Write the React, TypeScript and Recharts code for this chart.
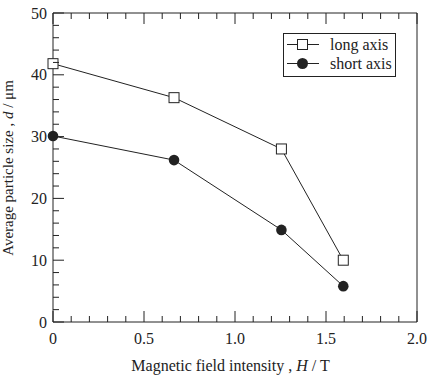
import { LineChart, Line, XAxis, YAxis } from "recharts"

const fieldIntensity = [0, 0.665, 1.255, 1.595]
const longAxis = [41.8, 36.3, 28.0, 10.0]
const shortAxis = [30.1, 26.2, 14.9, 5.8]
const seriesNames = ["long axis", "short axis"]

const xTicks = [0, 0.1, 0.2, 0.3, 0.4, 0.5, 0.6, 0.7, 0.8, 0.9, 1.0, 1.1, 1.2, 1.3, 1.4, 1.5, 1.6, 1.7, 1.8, 1.9, 2.0]
const xMajor = [0, 0.5, 1.0, 1.5, 2.0]
const xMajorLabels = ["0", "0.5", "1.0", "1.5", "2.0"]
const yTicks = [0, 2, 4, 6, 8, 10, 12, 14, 16, 18, 20, 22, 24, 26, 28, 30, 32, 34, 36, 38, 40, 42, 44, 46, 48, 50]
const yMajor = [0, 10, 20, 30, 40, 50]

const data = fieldIntensity.map((h, i) => ({ h, long: longAxis[i], short: shortAxis[i] }))

const INK = "#222"
const FONT = '"Liberation Serif", "Times New Roman", serif'
const MAJOR = 11
const MINOR = 6

const majorIndex = (list: number[], v: number) => list.findIndex((m) => Math.abs(m - Number(v)) < 1e-6)

const BottomTick = (props: any) => {
  const x = Number(props.x)
  const y0 = Number(props.y) - 10
  const idx = majorIndex(xMajor, props.payload.value)
  return (
    <g>
      <line x1={x} x2={x} y1={y0} y2={y0 - (idx >= 0 ? MAJOR : MINOR)} stroke={INK} strokeWidth={1} />
      {idx >= 0 && (
        <text x={x} y={y0 + 22} textAnchor="middle" fontFamily={FONT} fontSize={16} fill={INK}>
          {xMajorLabels[idx]}
        </text>
      )}
    </g>
  )
}

const TopTick = (props: any) => {
  const x = Number(props.x)
  const y0 = Number(props.y) + 10
  const major = majorIndex(xMajor, props.payload.value) >= 0
  return <line x1={x} x2={x} y1={y0} y2={y0 + (major ? MAJOR : MINOR)} stroke={INK} strokeWidth={1} />
}

const LeftTick = (props: any) => {
  const y = Number(props.y)
  const x0 = Number(props.x) + 10
  const major = majorIndex(yMajor, props.payload.value) >= 0
  return (
    <g>
      <line x1={x0} x2={x0 + (major ? MAJOR : MINOR)} y1={y} y2={y} stroke={INK} strokeWidth={1} />
      {major && (
        <text x={x0 - 6} y={y + 5.5} textAnchor="end" fontFamily={FONT} fontSize={16} fill={INK}>
          {props.payload.value}
        </text>
      )}
    </g>
  )
}

// right axis uses a negative tickMargin so the tick anchor stays inside the chart
const RightTick = (props: any) => {
  const y = Number(props.y)
  const x0 = Number(props.x) + 10
  const major = majorIndex(yMajor, props.payload.value) >= 0
  return <line x1={x0} x2={x0 - (major ? MAJOR : MINOR)} y1={y} y2={y} stroke={INK} strokeWidth={1} />
}

const SquareDot = (p: any) => (
  <rect key={`sq-${p.index}`} x={p.cx - 5} y={p.cy - 5} width={10} height={10} fill="#fff" stroke={INK} strokeWidth={1} />
)

const LegendOverlay = () => (
  <div
    style={{
      position: "absolute",
      left: 283,
      top: 33,
      boxSizing: "border-box",
      width: 113,
      height: 44,
      border: `1px solid ${INK}`,
      background: "#fff",
      padding: "1px 0 0 3px",
      fontFamily: FONT,
      fontSize: 16,
      color: INK,
      lineHeight: "19px",
    }}
  >
    {seriesNames.map((name, i) => (
      <div key={name} style={{ display: "flex", alignItems: "center", height: 19 }}>
        <div style={{ position: "relative", width: 32, height: 19 }}>
          <div style={{ position: "absolute", left: 0, top: 9, width: 32, height: 1, background: INK }} />
          <div
            style={{
              position: "absolute",
              left: 10,
              top: 4,
              width: 11,
              height: 11,
              boxSizing: "border-box",
              border: i === 0 ? `1px solid ${INK}` : "none",
              borderRadius: i === 0 ? 0 : "50%",
              background: i === 0 ? "#fff" : INK,
            }}
          />
        </div>
        <span style={{ marginLeft: 11 }}>{name}</span>
      </div>
    ))}
  </div>
)

export default function App() {
  return (
    <div style={{ position: "absolute", left: 0, top: 0, width: 428, height: 376, background: "#fff" }}>
      <LineChart width={428} height={376} data={data} margin={{ top: 12, right: 10, bottom: 0, left: 0 }}>
        <XAxis
          xAxisId="bottom"
          dataKey="h"
          type="number"
          domain={[0, 2]}
          ticks={xTicks}
          interval={0}
          orientation="bottom"
          height={54}
          tickSize={0}
          tickMargin={10}
          tickLine={false}
          tick={BottomTick}
          axisLine={{ stroke: INK }}
        />
        <XAxis
          xAxisId="top"
          dataKey="h"
          type="number"
          domain={[0, 2]}
          ticks={xTicks}
          interval={0}
          orientation="top"
          height={1}
          tickSize={0}
          tickMargin={10}
          tickLine={false}
          tick={TopTick}
          axisLine={{ stroke: INK }}
        />
        <YAxis
          yAxisId="left"
          type="number"
          domain={[0, 50]}
          ticks={yTicks}
          interval={0}
          orientation="left"
          width={53}
          tickSize={0}
          tickMargin={10}
          tickLine={false}
          tick={LeftTick}
          axisLine={{ stroke: INK }}
        />
        <YAxis
          yAxisId="right"
          type="number"
          domain={[0, 50]}
          ticks={yTicks}
          interval={0}
          orientation="right"
          width={1}
          tickSize={0}
          tickMargin={-10}
          tickLine={false}
          tick={RightTick}
          axisLine={{ stroke: INK }}
        />
        <Line
          xAxisId="bottom"
          yAxisId="left"
          dataKey="long"
          name={seriesNames[0]}
          type="linear"
          stroke={INK}
          strokeWidth={1}
          dot={SquareDot}
          isAnimationActive={false}
        />
        <Line
          xAxisId="bottom"
          yAxisId="left"
          dataKey="short"
          name={seriesNames[1]}
          type="linear"
          stroke={INK}
          strokeWidth={1}
          dot={{ r: 5.3, fill: INK, stroke: INK, strokeWidth: 0 }}
          isAnimationActive={false}
        />
      </LineChart>
      <LegendOverlay />
      <div
        style={{
          position: "absolute",
          left: 230.5,
          top: 357.6,
          transform: "translateX(-50%)",
          whiteSpace: "nowrap",
          fontFamily: FONT,
          fontSize: 16,
          lineHeight: "16px",
          color: INK,
        }}
      >
        Magnetic field intensity , <i>H</i> / T
      </div>
      <div
        style={{
          position: "absolute",
          left: 8,
          top: 167.5,
          transform: "translate(-50%, -50%) rotate(-90deg)",
          whiteSpace: "nowrap",
          fontFamily: FONT,
          fontSize: 15,
          lineHeight: "15px",
          color: INK,
        }}
      >
        Average particle size , <i>d</i> / μm
      </div>
    </div>
  )
}
